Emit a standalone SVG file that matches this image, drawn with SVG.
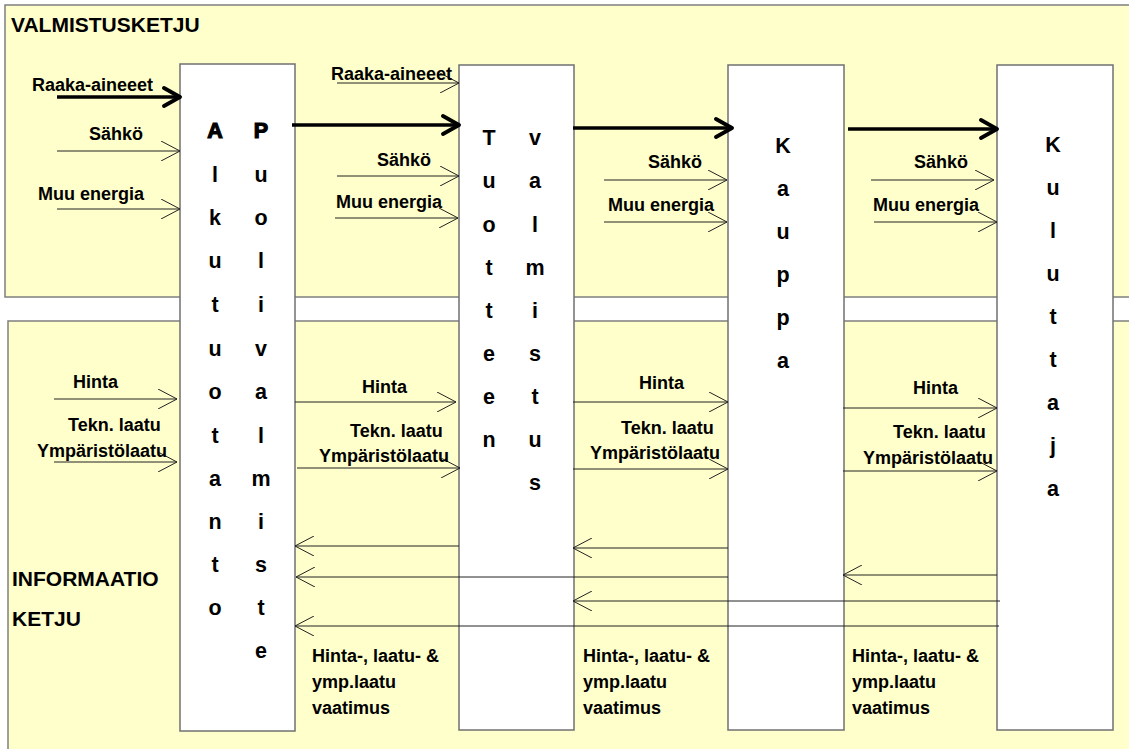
<svg xmlns="http://www.w3.org/2000/svg" width="1129" height="749" viewBox="0 0 1129 749">
<style>
.panel{fill:#FFFFCC;stroke:#7f7f7f;stroke-width:1.5}
.col{fill:#ffffff;stroke:#707070;stroke-width:1.5}
.lbl{font-family:"Liberation Sans",Arial,sans-serif;font-weight:bold;font-size:18px;fill:#000}
.ttl{font-family:"Liberation Sans",Arial,sans-serif;font-weight:bold;font-size:21px;fill:#000}
.ltr{font-family:"Liberation Sans",Arial,sans-serif;font-weight:bold;font-size:21.5px;fill:#000;text-anchor:middle}
.big{stroke:#000;stroke-width:1.2}
.thin{fill:none;stroke:#222;stroke-width:1}
.thick{fill:none;stroke:#000;stroke-width:3.5}
</style>
<defs>
<marker id="open" viewBox="0 0 20 20" refX="20" refY="10" markerWidth="20" markerHeight="20" markerUnits="userSpaceOnUse" orient="auto">
<path d="M1,0 L20,10 L1,20" fill="none" stroke="#222" stroke-width="1"/>
</marker>
<marker id="thickhead" viewBox="0 0 22 22" refX="19" refY="11" markerWidth="22" markerHeight="22" markerUnits="userSpaceOnUse" orient="auto">
<path d="M3,2 L19,11 L3,20" fill="none" stroke="#000" stroke-width="3.8" stroke-linecap="round" stroke-linejoin="round"/>
</marker>
</defs>

<g id="panels">
<rect class="panel" x="5" y="5" width="1130" height="292"/>
<rect class="panel" x="8" y="321" width="1130" height="440"/>
<text class="ttl" x="11" y="32">VALMISTUSKETJU</text>
<text class="ttl" x="12" y="586">INFORMAATIO</text>
<text class="ttl" x="12" y="626">KETJU</text>
</g>

<g id="node-alkutuotanto">
<rect class="col" x="180" y="64" width="115" height="667"/>
<text class="ltr big" x="215" y="138">A</text>
<text class="ltr" x="215" y="182">l</text>
<text class="ltr" x="215" y="225">k</text>
<text class="ltr" x="215" y="268">u</text>
<text class="ltr" x="215" y="312">t</text>
<text class="ltr" x="215" y="356">u</text>
<text class="ltr" x="215" y="399">o</text>
<text class="ltr" x="215" y="443">t</text>
<text class="ltr" x="215" y="486">a</text>
<text class="ltr" x="215" y="529">n</text>
<text class="ltr" x="215" y="572">t</text>
<text class="ltr" x="215" y="615">o</text>
</g>
<g id="node-puolivalmiste">
<text class="ltr big" x="261" y="138">P</text>
<text class="ltr" x="261" y="182">u</text>
<text class="ltr" x="261" y="225">o</text>
<text class="ltr" x="261" y="268">l</text>
<text class="ltr" x="261" y="312">i</text>
<text class="ltr" x="261" y="356">v</text>
<text class="ltr" x="261" y="399">a</text>
<text class="ltr" x="261" y="443">l</text>
<text class="ltr" x="261" y="486">m</text>
<text class="ltr" x="261" y="529">i</text>
<text class="ltr" x="261" y="572">s</text>
<text class="ltr" x="261" y="615">t</text>
<text class="ltr" x="261" y="658">e</text>
</g>

<g id="node-tuotteen-valmistus">
<rect class="col" x="459" y="65" width="115" height="665"/>
<text class="ltr" x="489" y="145">T</text>
<text class="ltr" x="489" y="188">u</text>
<text class="ltr" x="489" y="232">o</text>
<text class="ltr" x="489" y="275">t</text>
<text class="ltr" x="489" y="318">t</text>
<text class="ltr" x="489" y="361">e</text>
<text class="ltr" x="489" y="404">e</text>
<text class="ltr" x="489" y="447">n</text>
<text class="ltr" x="535" y="145">v</text>
<text class="ltr" x="535" y="188">a</text>
<text class="ltr" x="535" y="232">l</text>
<text class="ltr" x="535" y="275">m</text>
<text class="ltr" x="535" y="318">i</text>
<text class="ltr" x="535" y="361">s</text>
<text class="ltr" x="535" y="404">t</text>
<text class="ltr" x="535" y="447">u</text>
<text class="ltr" x="535" y="490">s</text>
</g>

<g id="node-kauppa">
<rect class="col" x="728" y="65" width="116" height="665"/>
<text class="ltr" x="783" y="153">K</text>
<text class="ltr" x="783" y="196">a</text>
<text class="ltr" x="783" y="239">u</text>
<text class="ltr" x="783" y="282">p</text>
<text class="ltr" x="783" y="325">p</text>
<text class="ltr" x="783" y="368">a</text>
</g>

<g id="node-kuluttaja">
<rect class="col" x="997" y="65" width="116" height="665"/>
<text class="ltr" x="1053" y="152">K</text>
<text class="ltr" x="1053" y="195">u</text>
<text class="ltr" x="1053" y="238">l</text>
<text class="ltr" x="1053" y="281">u</text>
<text class="ltr" x="1053" y="324">t</text>
<text class="ltr" x="1053" y="367">t</text>
<text class="ltr" x="1053" y="410">a</text>
<text class="ltr" x="1053" y="453">j</text>
<text class="ltr" x="1053" y="496">a</text>
</g>

<g id="connectors">
<line class="thick" x1="57" y1="97" x2="180" y2="97" marker-end="url(#thickhead)"/>
<line class="thick" x1="292" y1="125" x2="459" y2="125" marker-end="url(#thickhead)"/>
<line class="thick" x1="573" y1="128" x2="732" y2="128" marker-end="url(#thickhead)"/>
<line class="thick" x1="848" y1="129" x2="997" y2="129" marker-end="url(#thickhead)"/>
<line class="thin" x1="57" y1="151" x2="180" y2="151" marker-end="url(#open)"/>
<line class="thin" x1="57" y1="209" x2="180" y2="209" marker-end="url(#open)"/>
<line class="thin" x1="337" y1="83" x2="459" y2="83" marker-end="url(#open)"/>
<line class="thin" x1="337" y1="176" x2="459" y2="176" marker-end="url(#open)"/>
<line class="thin" x1="335" y1="218" x2="458" y2="218" marker-end="url(#open)"/>
<line class="thin" x1="604" y1="180" x2="727" y2="180" marker-end="url(#open)"/>
<line class="thin" x1="604" y1="222" x2="727" y2="222" marker-end="url(#open)"/>
<line class="thin" x1="871" y1="180" x2="994" y2="180" marker-end="url(#open)"/>
<line class="thin" x1="874" y1="222" x2="997" y2="222" marker-end="url(#open)"/>
<line class="thin" x1="54" y1="399" x2="177" y2="399" marker-end="url(#open)"/>
<line class="thin" x1="54" y1="462" x2="177" y2="462" marker-end="url(#open)"/>
<line class="thin" x1="295" y1="402" x2="456" y2="402" marker-end="url(#open)"/>
<line class="thin" x1="297" y1="468" x2="460" y2="468" marker-end="url(#open)"/>
<line class="thin" x1="573" y1="402" x2="728" y2="402" marker-end="url(#open)"/>
<line class="thin" x1="573" y1="469" x2="728" y2="469" marker-end="url(#open)"/>
<line class="thin" x1="843" y1="408" x2="997" y2="408" marker-end="url(#open)"/>
<line class="thin" x1="843" y1="471" x2="997" y2="471" marker-end="url(#open)"/>
<line class="thin" x1="459" y1="546" x2="295" y2="546" marker-end="url(#open)"/>
<line class="thin" x1="728" y1="548" x2="573" y2="548" marker-end="url(#open)"/>
<line class="thin" x1="728" y1="577" x2="296" y2="577" marker-end="url(#open)"/>
<line class="thin" x1="997" y1="575" x2="843" y2="575" marker-end="url(#open)"/>
<line class="thin" x1="1000" y1="601" x2="573" y2="601" marker-end="url(#open)"/>
<line class="thin" x1="999" y1="626" x2="295" y2="626" marker-end="url(#open)"/>
</g>

<g id="labels">
<text class="lbl" x="32" y="91">Raaka-aineeet</text>
<text class="lbl" x="89" y="140">Sähkö</text>
<text class="lbl" x="38" y="200">Muu energia</text>
<text class="lbl" x="331" y="80">Raaka-aineeet</text>
<text class="lbl" x="377" y="166">Sähkö</text>
<text class="lbl" x="336" y="208">Muu energia</text>
<text class="lbl" x="648" y="168">Sähkö</text>
<text class="lbl" x="608" y="211">Muu energia</text>
<text class="lbl" x="914" y="168">Sähkö</text>
<text class="lbl" x="873" y="211">Muu energia</text>
<text class="lbl" x="73" y="388">Hinta</text>
<text class="lbl" x="68" y="431">Tekn. laatu</text>
<text class="lbl" x="37" y="457">Ympäristölaatu</text>
<text class="lbl" x="362" y="393">Hinta</text>
<text class="lbl" x="350" y="437">Tekn. laatu</text>
<text class="lbl" x="319" y="462">Ympäristölaatu</text>
<text class="lbl" x="639" y="389">Hinta</text>
<text class="lbl" x="621" y="434">Tekn. laatu</text>
<text class="lbl" x="590" y="459">Ympäristölaatu</text>
<text class="lbl" x="913" y="394">Hinta</text>
<text class="lbl" x="893" y="438">Tekn. laatu</text>
<text class="lbl" x="863" y="464">Ympäristölaatu</text>
<text class="lbl" x="312" y="662">Hinta-, laatu- &amp;</text>
<text class="lbl" x="312" y="688">ymp.laatu</text>
<text class="lbl" x="312" y="714">vaatimus</text>
<text class="lbl" x="583" y="662">Hinta-, laatu- &amp;</text>
<text class="lbl" x="583" y="688">ymp.laatu</text>
<text class="lbl" x="583" y="714">vaatimus</text>
<text class="lbl" x="852" y="662">Hinta-, laatu- &amp;</text>
<text class="lbl" x="852" y="688">ymp.laatu</text>
<text class="lbl" x="852" y="714">vaatimus</text>
</g>
</svg>
